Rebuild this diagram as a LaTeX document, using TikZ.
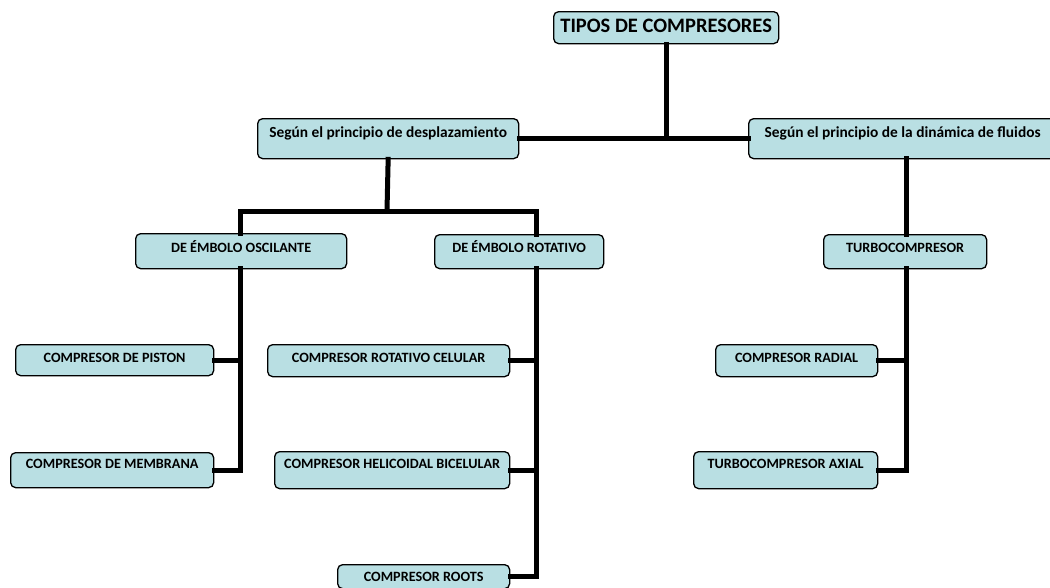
\documentclass[tikz,border=0pt]{standalone}
\usepackage{fontspec}
\setmainfont{Carlito}
\begin{document}
\begin{tikzpicture}[x=1pt,y=-1pt,
  box/.style={draw=black, line width=1.3pt, rounded corners=5pt, fill=boxfill,
    inner xsep=0pt, inner ysep=0pt, anchor=north west, align=center},
  tfont/.style={font=\bfseries\fontsize{20.5}{24}\selectfont},
  mfont/.style={font=\bfseries\fontsize{15.4}{18}\selectfont},
  sfont/.style={font=\bfseries\fontsize{14.2}{17}\selectfont},
  conn/.style={line width=5pt, line join=miter, line cap=rect}]
\definecolor{boxfill}{HTML}{B9DFE3}
\useasboundingbox (0,0) rectangle (1050,587);
% boxes: minimum width, text height (top->baseline), text depth (baseline->bottom)
\node[box, tfont, minimum width=225pt, text height=21pt, text depth=11pt] (top) at (553,11) {TIPOS DE COMPRESORES};
\node[box, mfont, minimum width=261pt, text height=19pt, text depth=21pt] (desp) at (257,118) {Según el principio de desplazamiento};
\node[box, mfont, minimum width=308pt, text height=19pt, text depth=21pt] (dinam) at (748,118) {Según el principio de la dinámica de fluidos};
\node[box, sfont, minimum width=211pt, text height=19pt, text depth=16pt] (osc) at (135,233) {DE ÉMBOLO OSCILANTE};
\node[box, sfont, minimum width=169pt, text height=18pt, text depth=16pt] (rot) at (434,234) {DE ÉMBOLO ROTATIVO};
\node[box, sfont, minimum width=163pt, text height=18pt, text depth=16pt] (turbo) at (823,234) {TURBOCOMPRESOR};
\node[box, sfont, minimum width=198pt, text height=18pt, text depth=13pt] (pist) at (15,344) {COMPRESOR DE PISTON};
\node[box, sfont, minimum width=203pt, text height=16pt, text depth=19pt] (memb) at (10,452) {COMPRESOR DE MEMBRANA};
\node[box, sfont, minimum width=242pt, text height=18pt, text depth=14pt] (cel) at (267,344) {COMPRESOR ROTATIVO CELULAR};
\node[box, sfont, minimum width=235pt, text height=17pt, text depth=20pt] (heli) at (274,451) {COMPRESOR HELICOIDAL BICELULAR};
\node[box, sfont, minimum width=172pt, text height=17pt, text depth=7pt] (roots) at (337,564) {COMPRESOR ROOTS};
\node[box, sfont, minimum width=162pt, text height=18pt, text depth=14pt] (radial) at (715,344) {COMPRESOR RADIAL};
\node[box, sfont, minimum width=184pt, text height=17pt, text depth=20pt] (axial) at (693,451) {TURBOCOMPRESOR AXIAL};
% junctions
\coordinate (j1) at (387,211);
\coordinate (rotN) at (536,234);
\coordinate (rotS) at (536,268);
\coordinate (oscV) at (240,268);
\coordinate (turV) at (906,268);
\coordinate (dinS) at (906,158);
\coordinate (turN) at (906,234);
% connectors
\draw[conn] (top.south) -- (top.south |- desp.east);
\draw[conn] (desp.east) -- (dinam.west);
\draw[conn] (desp.south) -- (j1);
\draw[conn] (oscV |- osc.north) |- (j1) -| (rotN);
\draw[conn] (dinS) -- (turN);
\draw[conn] (oscV) |- (memb.east);
\draw[conn] (pist.east) -- (pist.east -| oscV);
\draw[conn] (rotS) |- (roots.east);
\draw[conn] (cel.east) -- (cel.east -| rotS);
\draw[conn] (heli.east) -- (heli.east -| rotS);
\draw[conn] (turV) |- (axial.east);
\draw[conn] (radial.east) -- (radial.east -| turV);
\end{tikzpicture}
\end{document}
